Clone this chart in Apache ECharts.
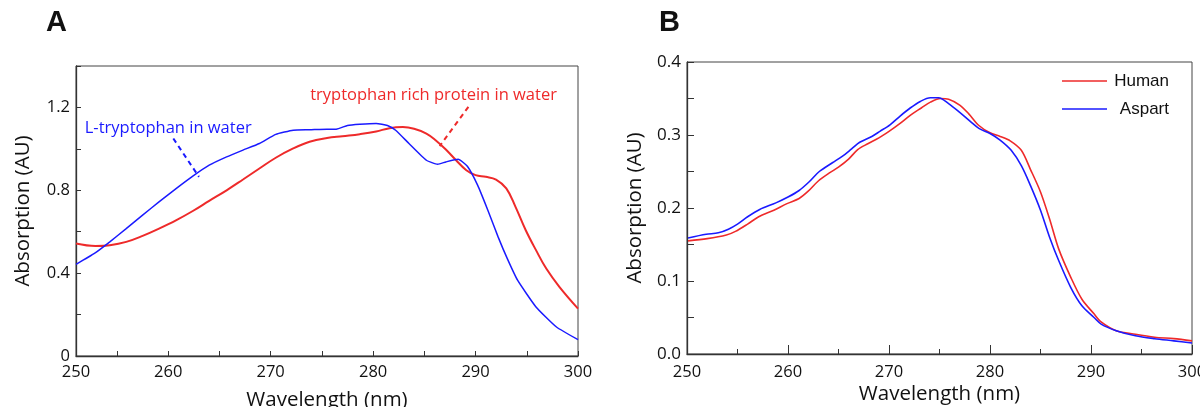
<!DOCTYPE html>
<html><head><meta charset="utf-8">
<script src="https://cdn.jsdelivr.net/npm/echarts@6/dist/echarts.min.js"></script>
<style>html,body{margin:0;padding:0;background:#fff}#c{width:1200px;height:407px}</style>
</head><body><div id="c"></div>
<script>
// ---- Panel A data ----
const aRedX = [251, 252.9, 254.3, 255.9, 257.5, 259.1, 260.8, 262.4, 264.0, 265.7, 267.3, 268.9, 270.5, 272.2, 273.8, 275.5, 277.0, 278.7, 280.3, 281.6, 282.9, 284.0, 285.2, 286.1, 287.1, 288.1, 289.1, 290.0, 291.0, 292.0, 293.0, 293.9, 294.9, 295.9, 296.9, 298.2, 300];
const aRedY = [0.543, 0.531, 0.535, 0.551, 0.580, 0.615, 0.656, 0.700, 0.749, 0.800, 0.852, 0.905, 0.957, 1.002, 1.034, 1.052, 1.061, 1.071, 1.084, 1.100, 1.105, 1.097, 1.074, 1.042, 0.997, 0.945, 0.897, 0.873, 0.865, 0.852, 0.809, 0.720, 0.607, 0.511, 0.422, 0.333, 0.229];
const aBlueX = [251, 252.8, 254.3, 255.9, 257.5, 259.1, 260.8, 262.4, 264.0, 265.7, 267.3, 268.9, 270.5, 272.2, 273.8, 275.5, 276.4, 277.5, 278.7, 280.3, 281.4, 282.2, 283.5, 285.2, 286.3, 287.1, 288.3, 289.2, 290.2, 291.2, 292.2, 293.1, 294.1, 295.9, 297.9, 300];
const aBlueY = [0.442, 0.495, 0.551, 0.615, 0.680, 0.744, 0.809, 0.868, 0.921, 0.961, 0.994, 1.026, 1.070, 1.090, 1.092, 1.095, 1.095, 1.113, 1.119, 1.123, 1.113, 1.090, 1.026, 0.945, 0.926, 0.937, 0.950, 0.916, 0.825, 0.704, 0.575, 0.470, 0.366, 0.237, 0.140, 0.079];
const aXLabels = [251, 260, 270, 280, 290, 300];   // left edge of panel A is labelled "250"
const aXTicks = [255, 260, 265, 270, 275, 280, 285, 290, 295, 300];
const aRedName = 'tryptophan rich protein in water';
const aBlueName = 'L-tryptophan in water';
// annotation anchors (data coords)
const aBlueText = [260.0, 1.099];
const aRedText = [285.9, 1.259];
const aBlueLeader = [[260.5, 1.050], [263.0, 0.865]];
const aRedLeader = [[289.3, 1.203], [286.5, 1.013]];

// ---- Panel B data ----
const bHumanX = [250.1, 252.0, 253.9, 254.8, 256.0, 257.1, 258.6, 259.9, 261.1, 262.0, 263.0, 264.1, 265.0, 266.0, 266.9, 267.9, 269.0, 270.0, 271.1, 272.1, 273.2, 274.1, 275.1, 275.9, 277.0, 277.9, 278.9, 280.0, 281.0, 282.0, 283.1, 284.0, 285.0, 285.9, 286.8, 288.0, 289.1, 290.3, 291.0, 292.5, 294.4, 296.3, 298.2, 300];
const bHumanY = [0.155, 0.158, 0.163, 0.168, 0.178, 0.188, 0.197, 0.206, 0.213, 0.223, 0.237, 0.248, 0.256, 0.267, 0.280, 0.288, 0.296, 0.305, 0.316, 0.327, 0.337, 0.345, 0.350, 0.349, 0.341, 0.329, 0.313, 0.303, 0.298, 0.292, 0.279, 0.253, 0.222, 0.185, 0.144, 0.105, 0.075, 0.055, 0.044, 0.032, 0.027, 0.023, 0.021, 0.018];
const bAspartX = [250.1, 251.9, 253.1, 254.1, 255.0, 256.0, 257.2, 258.8, 260.0, 261.1, 262.1, 263.1, 264.4, 265.4, 266.3, 267.1, 268.3, 269.1, 270.1, 271.1, 272.1, 273.1, 274.1, 274.9, 275.9, 277.0, 278.1, 278.9, 280.0, 281.0, 282.1, 283.1, 284.0, 285.0, 285.9, 286.8, 288.0, 289.1, 290.3, 291.0, 292.5, 294.4, 296.3, 298.2, 300];
const bAspartY = [0.159, 0.164, 0.166, 0.171, 0.178, 0.188, 0.198, 0.207, 0.215, 0.224, 0.236, 0.250, 0.262, 0.271, 0.281, 0.290, 0.298, 0.305, 0.314, 0.326, 0.337, 0.346, 0.351, 0.351, 0.343, 0.331, 0.318, 0.309, 0.302, 0.293, 0.279, 0.258, 0.231, 0.197, 0.160, 0.128, 0.091, 0.066, 0.050, 0.041, 0.032, 0.025, 0.021, 0.018, 0.015];

const RED = '#ee2a2a', BLUE = '#1a1aff';
const FONT = 'Open Sans';
const zip = (xs, ys) => xs.map((x, i) => [x, ys[i]]);

const chart = echarts.init(document.getElementById('c'), null, {renderer: 'canvas'});

const axisLineStyle = {color: '#333', width: 1.3};
const option = {
  animation: false,
  backgroundColor: '#fff',
  grid: [
    {left: 76, top: 66, width: 502, height: 290, show: true, borderColor: '#444', borderWidth: 1, outerBoundsMode: 'none', containLabel: false},
    {left: 687, top: 62, width: 505, height: 292, show: true, borderColor: '#444', borderWidth: 1, outerBoundsMode: 'none', containLabel: false}
  ],
  xAxis: [
    {
      gridIndex: 0, type: 'value', min: 251, max: 300,
      axisLine: {show: true, lineStyle: axisLineStyle},
      axisTick: {show: true, inside: true, length: 5, customValues: aXTicks, lineStyle: {color: '#333'}},
      axisLabel: {customValues: aXLabels, formatter: v => (v === 251 ? '250' : String(v)),
        fontFamily: FONT, fontSize: 16.5, color: '#111', margin: 8},
      splitLine: {show: false},
      name: 'Wavelength (nm)', nameLocation: 'middle', nameGap: 34, nameMoveOverlap: false,
      nameTextStyle: {fontFamily: FONT, fontSize: 20.5, color: '#111'}
    },
    {
      gridIndex: 1, type: 'value', min: 250, max: 300, interval: 10,
      axisLine: {show: true, lineStyle: axisLineStyle},
      axisTick: {show: true, inside: true, length: 9, lineStyle: {color: '#333'}},
      minorTick: {show: true, splitNumber: 2, length: 5, lineStyle: {color: '#333'}},
      axisLabel: {fontFamily: FONT, fontSize: 16.5, color: '#111', margin: 10},
      splitLine: {show: false},
      name: 'Wavelength (nm)', nameLocation: 'middle', nameGap: 30, nameMoveOverlap: false,
      nameTextStyle: {fontFamily: FONT, fontSize: 20.5, color: '#111'}
    }
  ],
  yAxis: [
    {
      gridIndex: 0, type: 'value', min: 0, max: 1.4, interval: 0.2,
      axisLine: {show: true, lineStyle: axisLineStyle},
      axisTick: {show: true, inside: true, length: 5, lineStyle: {color: '#333'}},
      axisLabel: {formatter: v => { const s = Math.round(v * 10); return s % 4 === 0 ? (s === 0 ? '0' : (s / 10).toFixed(1)) : ''; },
        fontFamily: FONT, fontSize: 16.5, color: '#111', margin: 6},
      splitLine: {show: false},
      name: 'Absorption (AU)', nameLocation: 'middle', nameGap: 42, nameMoveOverlap: false,
      nameTextStyle: {fontFamily: FONT, fontSize: 20.5, color: '#111'}
    },
    {
      gridIndex: 1, type: 'value', min: 0, max: 0.4, interval: 0.05,
      axisLine: {show: true, lineStyle: axisLineStyle},
      axisTick: {show: true, inside: true, length: 7, lineStyle: {color: '#333'}},
      axisLabel: {formatter: v => { const s = Math.round(v * 100); return s % 10 === 0 ? (s / 100).toFixed(1) : ''; },
        fontFamily: FONT, fontSize: 17, color: '#111', margin: 6},
      splitLine: {show: false},
      name: 'Absorption (AU)', nameLocation: 'middle', nameGap: 41, nameMoveOverlap: false,
      nameTextStyle: {fontFamily: FONT, fontSize: 20.5, color: '#111'}
    }
  ],
  legend: {
    data: ['Human', 'Aspart'], orient: 'vertical', left: 1057, top: 66,
    icon: 'rect', itemWidth: 45, itemHeight: 1.6, itemGap: 8,
    formatter: name => '{t|' + name + '}',
    textStyle: {fontFamily: 'Liberation Sans', fontSize: 17, color: '#111',
      rich: {t: {fontFamily: 'Liberation Sans', fontSize: 17, color: '#111', width: 57, align: 'right', height: 20, lineHeight: 20}}}
  },
  series: [
    {name: aRedName, type: 'line', xAxisIndex: 0, yAxisIndex: 0, data: zip(aRedX, aRedY), symbol: 'none', smooth: 0.4,
      lineStyle: {color: RED, width: 2}, itemStyle: {color: RED},
      markLine: {silent: true, symbol: 'none', label: {show: false},
        lineStyle: {color: RED, type: [5, 4], width: 2},
        data: [[{coord: aRedLeader[0]}, {coord: aRedLeader[1]}]]}},
    {name: aBlueName, type: 'line', xAxisIndex: 0, yAxisIndex: 0, data: zip(aBlueX, aBlueY), symbol: 'none', smooth: 0.15,
      lineStyle: {color: BLUE, width: 1.5}, itemStyle: {color: BLUE},
      markLine: {silent: true, symbol: 'none', label: {show: false},
        lineStyle: {color: BLUE, type: [5, 4], width: 2},
        data: [[{coord: aBlueLeader[0]}, {coord: aBlueLeader[1]}]]}},
    {name: 'Human', type: 'line', xAxisIndex: 1, yAxisIndex: 1, data: zip(bHumanX, bHumanY), symbol: 'none', smooth: 0.3,
      lineStyle: {color: RED, width: 1.6}, itemStyle: {color: RED}},
    {name: 'Aspart', type: 'line', xAxisIndex: 1, yAxisIndex: 1, data: zip(bAspartX, bAspartY), symbol: 'none', smooth: 0.3,
      lineStyle: {color: BLUE, width: 1.6}, itemStyle: {color: BLUE}}
  ]
};
chart.setOption(option);

const pBlue = chart.convertToPixel({gridIndex: 0}, aBlueText);
const pRed = chart.convertToPixel({gridIndex: 0}, aRedText);
chart.setOption({
  graphic: [
    {type: 'text', left: 46, top: 8, style: {text: 'A', font: 'bold 29px "Liberation Sans"', fill: '#111'}},
    {type: 'text', left: 659, top: 8, style: {text: 'B', font: 'bold 29px "Liberation Sans"', fill: '#111'}},
    {type: 'text', x: pBlue[0], y: pBlue[1], style: {text: aBlueName, font: '16.5px "Open Sans"', fill: BLUE, align: 'center', verticalAlign: 'middle'}},
    {type: 'text', x: pRed[0], y: pRed[1], style: {text: aRedName, font: '16.5px "Open Sans"', fill: RED, align: 'center', verticalAlign: 'middle'}}
  ]
});
</script>
</body></html>
